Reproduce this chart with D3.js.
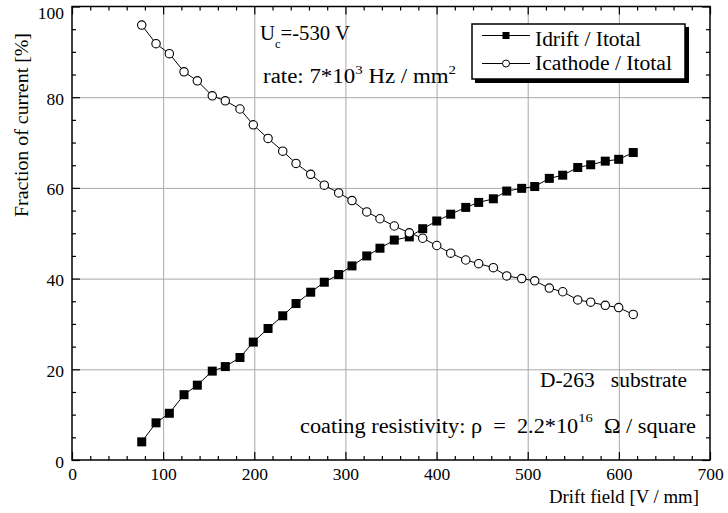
<!DOCTYPE html>
<html><head><meta charset="utf-8">
<script src="https://cdn.jsdelivr.net/npm/d3@7"></script>
<style>
body{margin:0;background:#fff}
text{font-family:"Liberation Serif","Times New Roman",serif;fill:#000}
</style>
</head><body>
<svg id="chart" width="728" height="513"></svg>
<script>
// ---- data ----
const driftField = [76.5,92.2,106.8,122.9,137.5,153.9,168.2,184.3,198.9,215.1,231.2,245.8,261.9,276.8,292.6,307.2,323.4,337.9,353.6,370.1,384.8,400.2,415.5,432.0,446.2,462.3,477.0,493.4,507.7,523.7,538.4,554.9,569.1,585.1,599.8,615.8];
const idriftFraction = [4.0,8.2,10.3,14.4,16.5,19.6,20.6,22.6,26.0,29.0,31.8,34.5,37.0,39.2,40.9,42.8,45.0,46.7,48.5,49.2,51.0,52.7,54.2,55.7,56.8,57.6,59.3,59.9,60.3,62.1,62.8,64.5,65.1,65.9,66.3,67.8];
const icathodeFraction = [95.9,91.8,89.6,85.6,83.6,80.3,79.2,77.4,73.9,70.9,68.1,65.4,63.0,60.6,58.9,57.2,54.7,53.2,51.6,50.1,48.9,47.3,45.6,44.1,43.3,42.4,40.6,40.0,39.5,37.9,37.1,35.3,34.8,34.1,33.6,32.1];
const xMajorTicks = [0,100,200,300,400,500,600,700];
const yMajorTicks = [0,20,40,60,80,100];
const seriesNames = ["Idrift / Itotal","Icathode / Itotal"];

const svg = d3.select("#chart");
const L = 72, R = 710, T = 6.5, B = 460;
const x = d3.scaleLinear().domain([0,700]).range([L,R]);
const y = d3.scaleLinear().domain([0,100]).range([B,T]);
const xMinor = d3.range(0,701,20).filter(v => v % 100 !== 0);
const yMinor = d3.range(0,101,5).filter(v => v % 20 !== 0);

// grid
svg.append("g").attr("transform",`translate(0,${B})`)
  .call(d3.axisBottom(x).tickValues(xMajorTicks.slice(1,-1)).tickSize(-(B-T)).tickFormat(""))
  .call(g=>{g.select(".domain").remove(); g.selectAll("line").attr("stroke","#a8a8a8").attr("stroke-width",1);});
svg.append("g").attr("transform",`translate(${L},0)`)
  .call(d3.axisLeft(y).tickValues(yMajorTicks.slice(1,-1)).tickSize(-(R-L)).tickFormat(""))
  .call(g=>{g.select(".domain").remove(); g.selectAll("line").attr("stroke","#a8a8a8").attr("stroke-width",1);});

function styleAxis(g){
  g.select(".domain").remove();
  g.selectAll("line").attr("stroke","#000").attr("stroke-width",1.2);
  g.selectAll("text").attr("font-size","17.5px").attr("fill","#000")
    .style("font-family",'"Liberation Serif","Times New Roman",serif');
}
// bottom
svg.append("g").attr("transform",`translate(0,${B})`)
  .call(d3.axisBottom(x).tickValues(xMajorTicks).tickSize(-8).tickPadding(8).tickFormat(d3.format("d"))).call(styleAxis);
svg.append("g").attr("transform",`translate(0,${B})`)
  .call(d3.axisBottom(x).tickValues(xMinor).tickSize(-4).tickFormat("")).call(styleAxis);
// top
svg.append("g").attr("transform",`translate(0,${T})`)
  .call(d3.axisTop(x).tickValues(xMajorTicks).tickSize(-8).tickFormat("")).call(styleAxis);
svg.append("g").attr("transform",`translate(0,${T})`)
  .call(d3.axisTop(x).tickValues(xMinor).tickSize(-4).tickFormat("")).call(styleAxis);
// left
svg.append("g").attr("transform",`translate(${L},0)`)
  .call(d3.axisLeft(y).tickValues(yMajorTicks).tickSize(-8).tickPadding(8).tickFormat(d3.format("d"))).call(styleAxis)
  .call(g=>g.selectAll("text").attr("dy",d=>d===100?"0.68em":"0.4em"));
svg.append("g").attr("transform",`translate(${L},0)`)
  .call(d3.axisLeft(y).tickValues(yMinor).tickSize(-4).tickFormat("")).call(styleAxis);
// right
svg.append("g").attr("transform",`translate(${R},0)`)
  .call(d3.axisRight(y).tickValues(yMajorTicks).tickSize(-8).tickFormat("")).call(styleAxis);
svg.append("g").attr("transform",`translate(${R},0)`)
  .call(d3.axisRight(y).tickValues(yMinor).tickSize(-4).tickFormat("")).call(styleAxis);

// frame
svg.append("rect").attr("x",L).attr("y",T).attr("width",R-L).attr("height",B-T)
  .attr("fill","none").attr("stroke","#000").attr("stroke-width",1.5);

// axis titles
svg.append("text").attr("transform","translate(28,125) rotate(-90)").attr("text-anchor","middle")
  .attr("font-size","19.5px").attr("textLength",184).attr("lengthAdjust","spacingAndGlyphs")
  .text("Fraction of current [%]");
svg.append("text").attr("x",549).attr("y",503).attr("font-size","19.5px")
  .attr("textLength",150).attr("lengthAdjust","spacingAndGlyphs").text("Drift field [V / mm]");

// series
const pts1 = driftField.map((f,i)=>[f,idriftFraction[i]]);
const pts2 = driftField.map((f,i)=>[f,icathodeFraction[i]]);
const line = d3.line().x(d=>x(d[0])).y(d=>y(d[1]));
svg.append("path").attr("d",line(pts2)).attr("fill","none").attr("stroke","#000").attr("stroke-width",1);
svg.append("path").attr("d",line(pts1)).attr("fill","none").attr("stroke","#000").attr("stroke-width",1);
const sq = 9;
svg.append("g").selectAll("rect").data(pts1).join("rect")
  .attr("x",d=>x(d[0])-sq/2).attr("y",d=>y(d[1])-sq/2).attr("width",sq).attr("height",sq).attr("fill","#000");
svg.append("g").selectAll("circle").data(pts2).join("circle")
  .attr("cx",d=>x(d[0])).attr("cy",d=>y(d[1])).attr("r",4.2).attr("fill","#fff").attr("stroke","#000").attr("stroke-width",1.1);

// legend
const lg = svg.append("g");
lg.append("rect").attr("x",475).attr("y",27).attr("width",214).attr("height",56).attr("fill","#000");
lg.append("rect").attr("x",472).attr("y",24).attr("width",213).attr("height",55).attr("fill","#fff").attr("stroke","#000").attr("stroke-width",1.5);
lg.append("line").attr("x1",482).attr("x2",530).attr("y1",35.5).attr("y2",35.5).attr("stroke","#000");
lg.append("rect").attr("x",506-3.5).attr("y",35.5-3.5).attr("width",7).attr("height",7).attr("fill","#000");
lg.append("line").attr("x1",482).attr("x2",530).attr("y1",63.5).attr("y2",63.5).attr("stroke","#000");
lg.append("circle").attr("cx",506).attr("cy",63.5).attr("r",3.5).attr("fill","#fff").attr("stroke","#000");
lg.append("text").attr("x",535).attr("y",45.5).attr("font-size","20px").attr("textLength",106).attr("lengthAdjust","spacingAndGlyphs").text(seriesNames[0]);
lg.append("text").attr("x",535).attr("y",69.5).attr("font-size","20px").attr("textLength",137).attr("lengthAdjust","spacingAndGlyphs").text(seriesNames[1]);

// annotations
const t1 = svg.append("text").attr("x",260).attr("y",40).attr("font-size","20px")
  .attr("textLength",90).attr("lengthAdjust","spacingAndGlyphs");
t1.append("tspan").text("U");
t1.append("tspan").attr("dy",8).attr("font-size","12px").text("c");
t1.append("tspan").attr("dy",-8).text("=-530 V");

const t2 = svg.append("text").attr("x",263).attr("y",83).attr("font-size","20px")
  .attr("textLength",193).attr("lengthAdjust","spacingAndGlyphs");
t2.append("tspan").text("rate:  7*10");
t2.append("tspan").attr("dy",-9).attr("font-size","13px").text("3");
t2.append("tspan").attr("dy",9).text(" Hz / mm");
t2.append("tspan").attr("dy",-9).attr("font-size","13px").text("2");

svg.append("text").attr("x",540).attr("y",386.5).attr("font-size","20px")
  .attr("textLength",147).attr("lengthAdjust","spacingAndGlyphs").text("D-263\u00a0\u00a0\u00a0substrate");

const t4 = svg.append("text").attr("x",300).attr("y",433).attr("font-size","20px")
  .attr("textLength",396).attr("lengthAdjust","spacingAndGlyphs");
t4.append("tspan").text("coating resistivity:\u00a0ρ\u00a0 =\u00a0 2.2*10");
t4.append("tspan").attr("dy",-11).attr("font-size","13px").text("16");
t4.append("tspan").attr("dy",11).text("\u00a0 Ω / square");
</script>
</body></html>
